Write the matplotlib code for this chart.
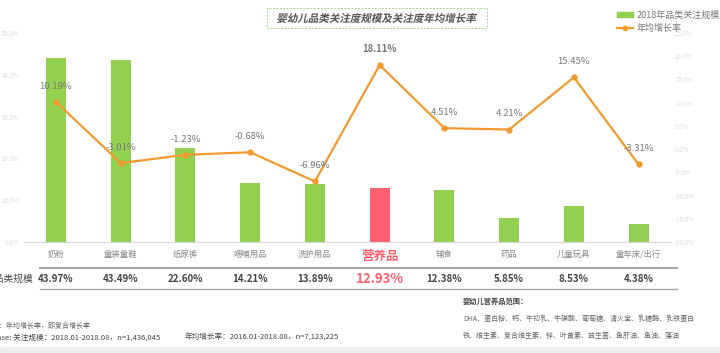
import matplotlib
matplotlib.use("Agg")
import matplotlib.pyplot as plt
import matplotlib.transforms as mtransforms
from matplotlib.patches import Rectangle, PathPatch
from matplotlib.textpath import TextPath
from matplotlib.font_manager import FontProperties

plt.rcParams['font.family'] = ['Noto Sans CJK SC', 'DejaVu Sans']

# ----- data -----
categories = ["奶粉", "童装童鞋", "纸尿裤", "喂哺用品", "洗护用品",
              "营养品", "辅食", "药品", "儿童玩具", "童车床/出行"]
scale_pct = [43.97, 43.49, 22.60, 14.21, 13.89, 12.93, 12.38, 5.85, 8.53, 4.38]
growth_pct = [10.19, -3.01, -1.23, -0.68, -6.96, 18.11, 4.51, 4.21, 15.45, -3.31]
highlight = "营养品"
title = "婴幼儿品类关注度规模及关注度年均增长率"

left_ticks = [0, 10, 20, 30, 40, 50]
right_ticks = [-20, -15, -10, -5, 0, 5, 10, 15, 20, 25]

GREEN = "#92d050"
RED = "#ff6070"
ORANGE = "#f39a2e"
W, H = 720, 353


def fx(px):
    return px / W


def fy(py):
    return 1 - py / H


fig = plt.figure(figsize=(7.2, 3.53), dpi=100)
fig.patch.set_facecolor("white")
ax = fig.add_axes([fx(23.6), fy(242), fx(671) - fx(23.6), fy(33) - fy(242)])
ax2 = ax.twinx()

x = list(range(len(categories)))
colors = [RED if c == highlight else GREEN for c in categories]
ax.bar(x, scale_pct, width=0.31, color=colors, zorder=2)
ax.set_xlim(-0.5, len(categories) - 0.5)
ax.set_ylim(0, 50)
ax.set_yticks(left_ticks)
ax.set_yticklabels([f"{t:.1f}%" for t in left_ticks])

ax2.plot(x, growth_pct, color=ORANGE, lw=1.6, marker="o", ms=3.5,
         mfc=ORANGE, mec=ORANGE, zorder=3)
ax2.set_ylim(-20, 25)
ax2.set_yticks(right_ticks)
ax2.set_yticklabels([f"{t:.1f}%" for t in right_ticks])

for a in (ax, ax2):
    for s in a.spines.values():
        s.set_visible(False)
    a.tick_params(axis="y", length=0, labelsize=4.5, labelcolor="#dcdcdc", pad=3)
ax.spines["bottom"].set_visible(True)
ax.spines["bottom"].set_color("#d9d9d9")
ax.spines["bottom"].set_linewidth(0.8)

ax.set_xticks(x)
ax.set_xticklabels(categories)
ax.tick_params(axis="x", length=0, labelsize=6, labelcolor="#888888", pad=6)
for lbl in ax.get_xticklabels():
    if lbl.get_text() == highlight:
        lbl.set_color(RED)
        lbl.set_fontsize(9)
        lbl.set_fontweight("bold")

# growth labels
for xi, g in zip(x, growth_pct):
    ax2.annotate(f"{g:.2f}%", (xi, g), xytext=(0, 8), textcoords="offset points",
                 ha="center", va="bottom", fontsize=6.8, color="#777777",
                 fontweight="bold" if g == max(growth_pct) else "normal", zorder=4)

# table under the chart
tr = mtransforms.blended_transform_factory(ax.transData, fig.transFigure)
fig.add_artist(plt.Line2D([fx(40), fx(677)], [fy(268), fy(268)], color="#a6a6a6", lw=1.5))
fig.add_artist(plt.Line2D([fx(40), fx(677)], [fy(289), fy(289)], color="#a6a6a6", lw=1.0))
fig.text(fx(33), fy(279), "各品类规模", ha="right", va="center", fontsize=7, color="#444444")
for xi, c, v in zip(x, categories, scale_pct):
    if c == highlight:
        ax.text(xi, fy(279), f"{v:.2f}%", transform=tr, ha="center", va="center",
                fontsize=9.5, color=RED, fontweight="bold")
    else:
        ax.text(xi, fy(279), f"{v:.2f}%", transform=tr, ha="center", va="center",
                fontsize=7, color="#444444", fontweight="bold")

# title box with slanted text (CJK font has no italic face)
tp = TextPath((0, 0), title, size=10.5,
              prop=FontProperties(family="Noto Sans CJK SC", weight="bold"))
ext = tp.get_extents()
cx, cy = 377, H - 18
shear = mtransforms.Affine2D().skew_deg(12, 0)
tp = shear.transform_path(tp)
ext = tp.get_extents()
move = mtransforms.Affine2D().translate(cx - (ext.x0 + ext.x1) / 2, cy - (ext.y0 + ext.y1) / 2)
fig.add_artist(PathPatch(move.transform_path(tp), transform=mtransforms.IdentityTransform(),
                         fc="#555555", ec="none", zorder=5))
fig.add_artist(Rectangle((fx(267), fy(28)), fx(487) - fx(267), fy(8) - fy(28),
                         transform=fig.transFigure, fc="white", ec="#a9d18e",
                         ls=(0, (2, 1.5)), lw=0.7, zorder=4))

# legend
leg = fig.legend(handles=[
    Rectangle((0, 0), 1, 1, color=GREEN),
    plt.Line2D([], [], color=ORANGE, lw=1.6, marker="o", ms=3)],
    labels=["2018年品类关注规模", "年均增长率"],
    loc="upper left", bbox_to_anchor=(fx(612), fy(6)), frameon=False,
    fontsize=6.5, handlelength=1.8, handleheight=0.6, handletextpad=0.4,
    labelspacing=0.5, borderpad=0)
for t in leg.get_texts():
    t.set_color("#777777")

# notes
fig.text(fx(-7), fy(326), "注：年均增长率，即复合增长率", ha="left", va="center",
         fontsize=5, color="#666666", style="italic")
fig.text(fx(-8), fy(338), "Base: 关注规模：2018.01-2018.08，n=1,436,045", ha="left",
         va="center", fontsize=5.5, color="#444444")
fig.text(fx(185), fy(338), "年均增长率：2016.01-2018.08，n=7,123,225", ha="left",
         va="center", fontsize=5.5, color="#444444")
fig.text(fx(463), fy(301), "婴幼儿营养品范围：", ha="left", va="center",
         fontsize=5.2, color="#444444", fontweight="bold")
fig.text(fx(463), fy(319), "DHA、蛋白粉、钙、牛初乳、牛磺酸、葡萄糖、清火宝、乳糖酶、乳铁蛋白",
         ha="left", va="center", fontsize=5, color="#666666")
fig.text(fx(463), fy(336), "铁、维生素、复合维生素、锌、叶黄素、益生菌、鱼肝油、鱼油、藻油",
         ha="left", va="center", fontsize=5, color="#666666")

# card shadow at the bottom
fig.add_artist(Rectangle((0, 0), 1, fy(347), transform=fig.transFigure,
                         color="#eeeeee", zorder=-1))

fig.savefig("out.png", dpi=100)
